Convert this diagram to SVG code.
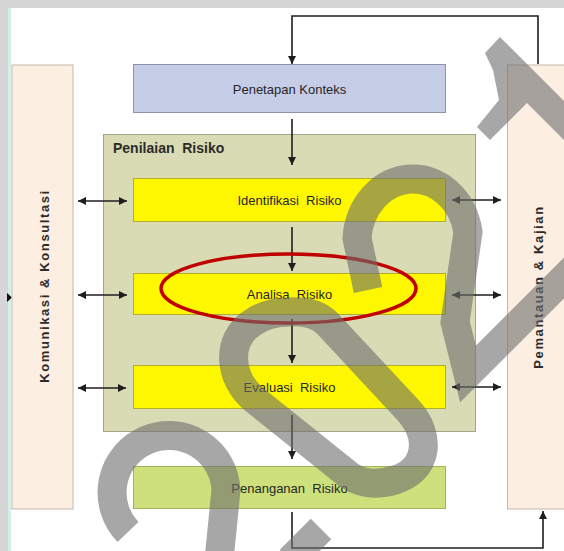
<svg xmlns="http://www.w3.org/2000/svg" width="564" height="551" viewBox="0 0 564 551">
<defs>
<style>
.lbl{font-family:"Liberation Sans",Arial,sans-serif;font-size:13px;fill:#262626;text-anchor:middle}
.ttl{font-family:"Liberation Sans",Arial,sans-serif;font-size:14px;font-weight:bold;fill:#2b2b2b}
.vt{font-family:"Liberation Sans",Arial,sans-serif;font-size:13px;font-weight:bold;fill:#2b2b2b;text-anchor:middle;letter-spacing:1.6px}
.ln{fill:none;stroke:#1e1e1e;stroke-width:1.6}
.side{fill:#fdeee2;stroke:#c4b8ad;stroke-width:1}
.yel{fill:#fff700;stroke:#b5ac2c;stroke-width:1}
.wm{fill:none;stroke:#6e6e6e;stroke-width:29;stroke-linejoin:miter}
</style>
<marker id="ah" viewBox="0 0 10 10" refX="10" refY="5" markerWidth="8" markerHeight="8" markerUnits="userSpaceOnUse" orient="auto-start-reverse">
<path d="M0,0 L10,5 L0,10 z" fill="#1e1e1e"/>
</marker>
</defs>

<!-- background / frame -->
<rect x="0" y="0" width="564" height="551" fill="#ffffff"/>
<rect x="0" y="0" width="564" height="8" fill="#d6d6d6"/>
<rect x="0" y="0" width="8" height="551" fill="#d6d6d6"/>
<rect x="8" y="8" width="3" height="543" fill="#d3efe9"/>
<polygon points="7,293 12,297.5 7,302" fill="#111"/>

<g id="komunikasi">
<rect class="side" x="12" y="65" width="61" height="444"/>
<text class="vt" transform="translate(48.5,286) rotate(-90)">Komunikasi &amp; Konsultasi</text>
</g>
<g id="pemantauan">
<rect class="side" x="507.5" y="65" width="62" height="444"/>
<text class="vt" transform="translate(543,287) rotate(-90)">Pemantauan &amp; Kajian</text>
</g>
<g id="penetapan">
<rect x="133.5" y="64.5" width="312" height="48" fill="#c6cde7" stroke="#8c93aa" stroke-width="1"/>
<text class="lbl" x="289.5" y="93.5">Penetapan Konteks</text>
</g>
<g id="penilaian">
<rect x="103.5" y="134.5" width="372" height="297" fill="#d8dbb4" stroke="#a3a58a" stroke-width="1"/>
<text class="ttl" x="113" y="153" xml:space="preserve">Penilaian  Risiko</text>
</g>
<g id="identifikasi">
<rect class="yel" x="133.5" y="178.5" width="312" height="43"/>
<text class="lbl" x="289.5" y="205" xml:space="preserve">Identifikasi  Risiko</text>
</g>
<g id="analisa">
<rect class="yel" x="133.5" y="273.5" width="312" height="41"/>
<text class="lbl" x="289.5" y="299" xml:space="preserve">Analisa  Risiko</text>
</g>
<g id="evaluasi">
<rect class="yel" x="133.5" y="365.5" width="312" height="43"/>
<text class="lbl" x="289.5" y="392" xml:space="preserve">Evaluasi  Risiko</text>
</g>
<g id="penanganan">
<rect x="133.5" y="466.5" width="312" height="42" fill="#cde07b" stroke="#a2b35a" stroke-width="1"/>
<text class="lbl" x="289.5" y="492.5" xml:space="preserve">Penanganan  Risiko</text>
</g>

<g id="connectors">
<path class="ln" d="M538,64 V16 H292 V64" marker-end="url(#ah)"/>
<path class="ln" d="M292,119 V165" marker-end="url(#ah)"/>
<path class="ln" d="M292,227 V271" marker-end="url(#ah)"/>
<path class="ln" d="M292,319 V363" marker-end="url(#ah)"/>
<path class="ln" d="M292,415 V459" marker-end="url(#ah)"/>
<path class="ln" d="M292,512 V548 H543 V511" marker-end="url(#ah)"/>
<path class="ln" d="M78,201 H127" marker-start="url(#ah)" marker-end="url(#ah)"/>
<path class="ln" d="M78,295 H127" marker-start="url(#ah)" marker-end="url(#ah)"/>
<path class="ln" d="M78,388 H126" marker-start="url(#ah)" marker-end="url(#ah)"/>
<path class="ln" d="M452,200 H501" marker-start="url(#ah)" marker-end="url(#ah)"/>
<path class="ln" d="M452,295 H501" marker-start="url(#ah)" marker-end="url(#ah)"/>
<path class="ln" d="M452,387 H501" marker-start="url(#ah)" marker-end="url(#ah)"/>
</g>

<ellipse id="highlight" cx="288.5" cy="288.5" rx="127.5" ry="34.5" fill="none" stroke="#c00000" stroke-width="3.5"/>

<g id="watermark" opacity="0.6">
<polygon points="485,53 500,37 564,101 564,140 527,103 490,140 477,127 499,100 493,70" fill="#6e6e6e"/>
<path class="wm" d="M368,290 L357,238 A56,64 0 0 1 468,232 L455,322 L468,374 L575,267"/>
<path class="wm" d="M290,312 C305,311 318,314 328,324 L408,410 C432,436 428,470 395,480 C378,485 362,484 350,476 L255,400 C228,378 226,340 252,323 C263,315 277,312 290,312 Z"/>
<path class="wm" d="M128,532 A57,57 0 1 1 226,490 L219,560"/>
<path class="wm" d="M290,560 L321,529"/>
</g>
</svg>
